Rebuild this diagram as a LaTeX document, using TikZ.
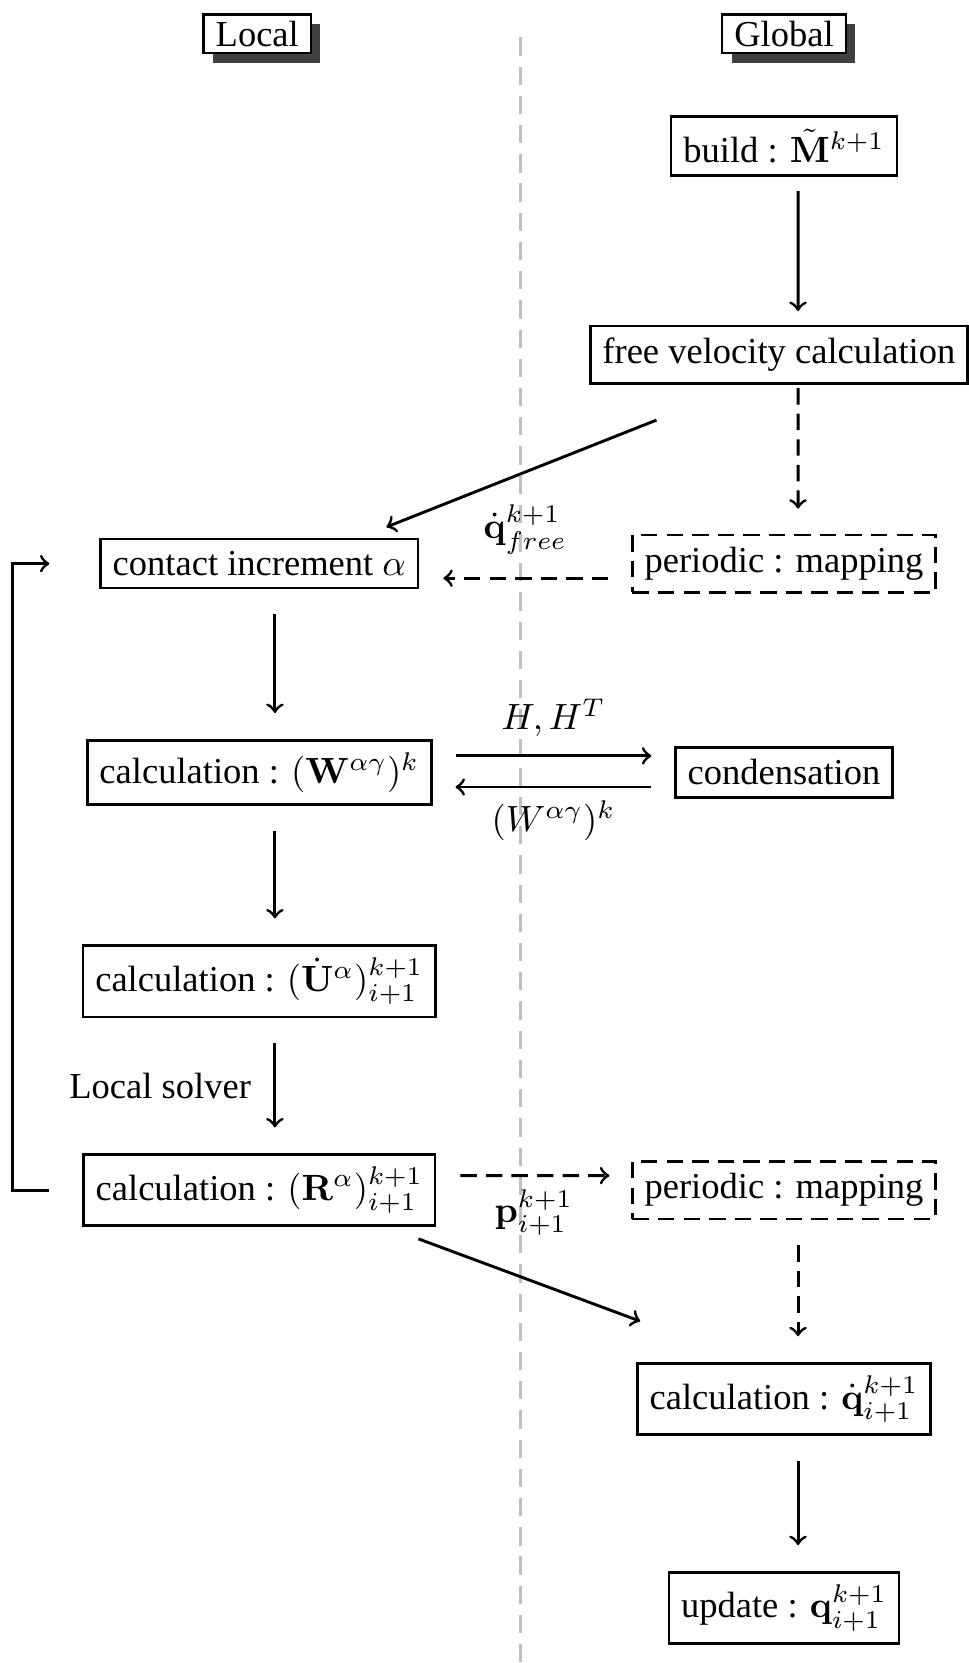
\documentclass[tikz,border=0pt]{standalone}
\usepackage[no-math]{fontspec}
\setmainfont{Liberation Serif}
\usepackage{amsmath}
\usetikzlibrary{positioning,shadows}

\begin{document}
\begin{tikzpicture}[
    node distance=2.01cm,
    on grid,
    box/.style={
        rectangle,draw,line width=0.7pt,
        align=center
    },
    dbox/.style={box,dash pattern=on 4.5pt off 2.5pt},
    head/.style={
        rectangle,draw,line width=0.7pt,fill=white,
        inner ysep=0.7pt,minimum height=0.37cm,
        drop shadow={shadow xshift=0.9mm,shadow yshift=-0.9mm,fill=black!75,opacity=1}
    },
    link/.style={->,thick},
    arrow/.style={link,shorten <=0.24cm,shorten >=0.25cm},
    darrow/.style={arrow,dash pattern=on 4.5pt off 2.5pt},
    sep/.style={black!25,line width=0.8pt,dash pattern=on 5pt off 3pt}
]
\useasboundingbox (0,0) rectangle (9.326,-16.006);
\draw[sep] (5.01,-0.36) -- (5.01,-16.006);

\node[box] (build) at (7.546,-1.405) {build : $\tilde{\mathbf{M}}^{k+1}$};
\node[head, above=1.078cm of build] (global) {Global};
\node[head, left=5.07cm of global] (local) {Local};
\node[box, below=of build, xshift=-0.05cm] (free) {free velocity calculation};
\node[dbox, below=4.02cm of build] (per1) {periodic : mapping};
\node[box, below=of per1] (cond) {condensation};
\node[dbox, below=4.02cm of cond] (per2) {periodic : mapping};
\node[box, below=of per2] (calcq) {calculation : $\dot{\mathbf{q}}^{k+1}_{i+1}$};
\node[box, below=of calcq] (update) {update : $\mathbf{q}^{k+1}_{i+1}$};

\node[box, left=5.05cm of per1] (contact) {contact increment $\alpha$};
\node[box, below=of contact] (W) {calculation : $(\mathbf{W}^{\alpha\gamma})^k$};
\node[box, below=of W] (U) {calculation : $(\dot{\mathbf{U}}^{\alpha})^{k+1}_{i+1}$};
\node[box, below=of U] (R) {calculation : $(\mathbf{R}^{\alpha})^{k+1}_{i+1}$};

\draw[arrow,shorten <=0.14cm,shorten >=0.13cm] ([xshift=0.135cm]build.south) -- ([xshift=0.185cm]free.north);
\draw[darrow,shorten <=0.03cm,shorten >=0.24cm] ([xshift=0.185cm]free.south) -- ([xshift=0.135cm]per1.north);
\draw[link] ([xshift=0.65cm,yshift=-0.337cm]free.south west) -- ([xshift=-0.317cm,yshift=0.105cm]contact.north east);
\draw[darrow,shorten <=0.22cm,shorten >=0.23cm] ([yshift=-0.14cm]per1.west) -- node[above=0.1cm]{$\dot{\mathbf{q}}^{k+1}_{free}$} ([yshift=-0.14cm]contact.east);

\draw[arrow] ([xshift=0.15cm]contact.south) -- ([xshift=0.15cm]W.north);
\draw[arrow,shorten <=0.22cm,shorten >=0.22cm] ([yshift=0.16cm]W.east) -- node[above=0.05cm]{$H, H^T$} ([yshift=0.16cm]cond.west);
\draw[arrow,shorten <=0.22cm,shorten >=0.22cm] ([yshift=-0.14cm]cond.west) -- node[below]{$(W^{\alpha\gamma})^k$} ([yshift=-0.14cm]W.east);
\draw[arrow] ([xshift=0.15cm]W.south) -- ([xshift=0.15cm]U.north);
\draw[arrow] ([xshift=0.15cm]U.south) -- node[left=0.1cm]{Local solver} ([xshift=0.15cm]R.north);

\draw[link] ([xshift=-0.32cm]R.west) -- ++(-0.35,0) |- ([xshift=-0.48cm]contact.west);
\draw[darrow,shorten <=0.23cm,shorten >=0.21cm] ([yshift=0.14cm]R.east) -- node[below]{$\mathbf{p}^{k+1}_{i+1}$} ([yshift=0.14cm]per2.west);
\draw[link] ([xshift=-0.173cm,yshift=-0.115cm]R.south east) -- ([xshift=0.039cm,yshift=0.395cm]calcq.north west);
\draw[darrow] ([xshift=0.135cm]per2.south) -- ([xshift=0.135cm]calcq.north);
\draw[arrow] ([xshift=0.135cm]calcq.south) -- ([xshift=0.135cm]update.north);
\end{tikzpicture}
\end{document}
